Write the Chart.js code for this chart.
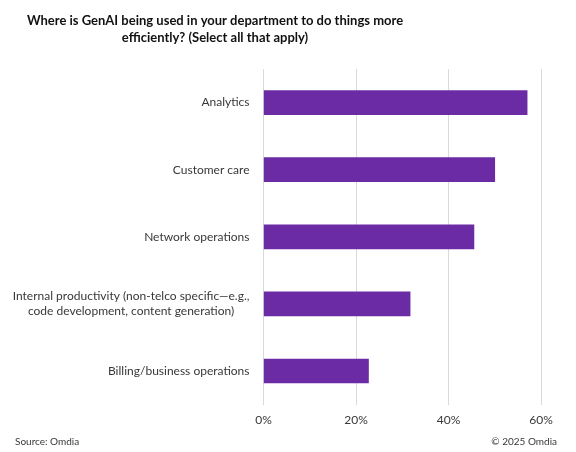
<!DOCTYPE html>
<html>
<head>
<meta charset="utf-8">
<script src="https://cdn.jsdelivr.net/npm/chart.js@4.4.1/dist/chart.umd.min.js"></script>
<style>
  html, body { margin: 0; padding: 0; background: #fff; }
  #wrap { width: 576px; height: 452px; position: relative; }
</style>
</head>
<body>
<div id="wrap"><canvas id="chart"></canvas></div>
<script>
// Chart data
const titleLines = [
    'Where is GenAI being used in your department to do things more',
    'efficiently? (Select all that apply)'
];
const categories = [
    ['Analytics'],
    ['Customer care'],
    ['Network operations'],
    ['Internal productivity (non-telco specific\u2014e.g.,', 'code development, content generation)'],
    ['Billing/business operations']
];
const shares = [57, 50, 45.5, 31.7, 22.7];
const xTicks = [0, 20, 40, 60];
const sourceNote = 'Source: Omdia';
const copyrightNote = '\u00a9 2025 Omdia';

const FONT = "Lato, 'Open Sans', sans-serif";
const TEXT = '#383838';
Chart.defaults.font.family = FONT;
Chart.defaults.color = TEXT;

// Draws title, footer and the category labels (right edge aligned, lines centred)
const decorations = {
    id: 'decorations',
    afterDraw(chart) {
        const ctx = chart.ctx;
        const area = chart.chartArea;
        const yScale = chart.scales.y;
        ctx.save();
        ctx.fillStyle = '#111';
        ctx.textBaseline = 'middle';
        ctx.textAlign = 'center';
        ctx.font = `bold 13px ${FONT}`;
        titleLines.forEach((line, i) => ctx.fillText(line, 215, 21 + i * 17));

        ctx.fillStyle = TEXT;
        ctx.font = `12px ${FONT}`;
        categories.forEach((lines, i) => {
            const y = yScale.getPixelForValue(i);
            const maxW = Math.max(...lines.map(l => ctx.measureText(l).width));
            const cx = area.left - 14 - maxW / 2;
            const lh = 15;
            lines.forEach((l, j) => {
                ctx.fillText(l, cx, y + (j - (lines.length - 1) / 2) * lh);
            });
        });

        ctx.font = `10px ${FONT}`;
        ctx.textAlign = 'left';
        ctx.fillText(sourceNote, 15, 442);
        ctx.textAlign = 'right';
        ctx.fillText(copyrightNote, 557, 442);
        ctx.restore();
    }
};

new Chart(document.getElementById('chart'), {
    type: 'bar',
    data: {
        labels: categories,
        datasets: [{
            data: shares,
            backgroundColor: '#6B2BA4',
            barThickness: 24
        }]
    },
    options: {
        indexAxis: 'y',
        responsive: true,
        maintainAspectRatio: false,
        animation: false,
        layout: { padding: { top: 69, right: 35, bottom: 17, left: 0 } },
        plugins: {
            legend: { display: false },
            tooltip: { enabled: false }
        },
        scales: {
            x: {
                min: xTicks[0],
                max: xTicks[xTicks.length - 1],
                afterBuildTicks(scale) {
                    scale.ticks = xTicks.map(v => ({ value: v }));
                },
                ticks: {
                    padding: 8,
                    color: TEXT,
                    font: { size: 12 },
                    callback: v => v + '%'
                },
                grid: { color: '#d9d9d9', drawTicks: false },
                border: { display: false }
            },
            y: {
                ticks: { display: false },
                grid: { display: false },
                border: { display: false },
                afterFit(scale) { scale.width = 263.5; }
            }
        }
    },
    plugins: [decorations]
});
</script>
</body>
</html>
